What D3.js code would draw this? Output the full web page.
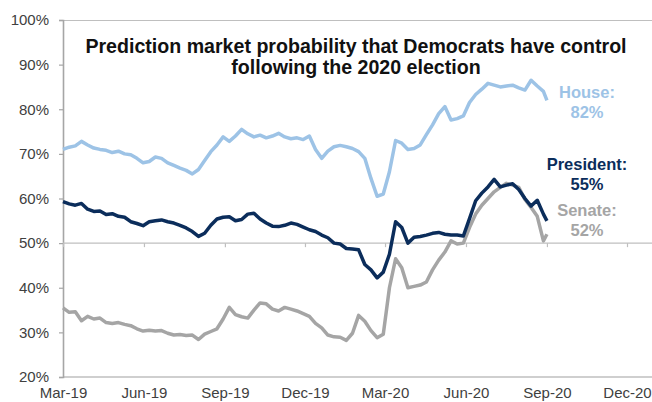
<!DOCTYPE html>
<html>
<head>
<meta charset="utf-8">
<script src="https://cdn.jsdelivr.net/npm/d3@7"></script>
<style>
  html, body { margin: 0; padding: 0; background: #fff; }
  svg { display: block; }
  text { font-family: "Liberation Sans", Arial, sans-serif; }
</style>
</head>
<body>
<svg id="chart" width="652" height="402"></svg>
<script>
// ---- Data (weekly readings from 1 Mar 2019, plus final point 1 Sep 2020) ----
const startDate = "2019-03-01";
const endDate = "2020-09-01";

const house = [
  71.0, 71.5, 71.8, 72.8, 72.0, 71.3, 71.0, 70.8, 70.3, 70.6,
  70.0, 69.8, 69.0, 68.0, 68.3, 69.3, 69.0, 68.0, 67.4, 66.8,
  66.3, 65.5, 66.5, 68.5, 70.5, 72.0, 73.8, 72.8, 74.0, 75.5,
  74.5, 73.8, 74.2, 73.6, 74.0, 74.6, 73.8, 73.4, 73.6, 73.2,
  74.0, 71.0, 69.0, 70.6, 71.6, 71.9, 71.6, 71.2, 70.5, 69.0,
  64.5, 60.5, 61.0, 66.0, 73.0, 72.4, 71.0, 71.2, 72.0, 74.3,
  76.5, 79.0, 80.6, 77.6, 77.9, 78.5, 81.5, 83.3, 84.5, 85.8,
  85.4, 85.0, 85.2, 85.4, 84.8, 84.3, 86.5, 85.2, 84.0, 82.0
];

const president = [
  59.3, 58.8, 58.5, 58.9, 57.6, 57.1, 57.2, 56.4, 56.6, 56.0,
  55.8, 54.8, 54.4, 53.9, 54.8, 55.0, 55.2, 54.8, 54.5, 54.0,
  53.4, 52.6, 51.5, 52.2, 54.0, 55.4, 55.8, 55.9, 55.0, 55.3,
  56.5, 56.7, 55.4, 54.5, 53.8, 53.7, 54.0, 54.5, 54.2, 53.6,
  53.0, 52.6, 51.8, 51.2, 50.0, 49.8, 48.8, 48.7, 48.5, 45.2,
  44.0, 42.2, 43.5, 47.5, 54.8, 53.5, 50.0, 51.3, 51.5, 51.8,
  52.2, 52.4, 52.0, 51.8, 51.8, 51.6, 55.5, 59.5, 61.2, 62.6,
  64.3, 62.6, 63.0, 63.3, 62.0, 60.0, 58.3, 59.6, 56.5, 55.0
];

const senate = [
  35.5, 34.5, 34.6, 32.6, 33.6, 33.0, 33.2, 32.2, 32.0, 32.2,
  31.8, 31.5, 30.8, 30.3, 30.5, 30.3, 30.4, 29.8, 29.4, 29.5,
  29.3, 29.4, 28.4, 29.6, 30.2, 30.8, 33.0, 35.6, 34.0, 33.5,
  33.2, 35.0, 36.6, 36.4, 35.2, 34.8, 35.6, 35.2, 34.8, 34.2,
  33.6, 32.0, 31.0, 29.4, 29.0, 28.9, 28.2, 29.8, 33.8, 32.5,
  30.4, 28.8, 29.6, 40.0, 46.5, 44.5, 40.0, 40.3, 40.6, 41.3,
  44.0, 46.2, 48.0, 50.5, 49.8, 50.0, 53.5, 56.5, 58.5, 60.0,
  61.5, 62.5, 63.4, 63.0, 62.5, 59.8, 58.0, 56.0, 50.5, 52.0
];

const xTickLabels = ["Mar-19","Jun-19","Sep-19","Dec-19","Mar-20","Jun-20","Sep-20","Dec-20"];
const xTickDates = ["2019-03-01","2019-06-01","2019-09-01","2019-12-01","2020-03-01","2020-06-01","2020-09-01","2020-12-01"];
const yTicks = [20, 30, 40, 50, 60, 70, 80, 90, 100];

const seriesNames = ["House", "President", "Senate"];
const seriesLabels = [["House:", "82%"], ["President:", "55%"], ["Senate:", "52%"]];
const titleLines = ["Prediction market probability that Democrats have control", "following the 2020 election"];

// ---- Build ----
(function () {
const parse = d3.timeParse("%Y-%m-%d");
const start = parse(startDate);
const dates = d3.range(house.length - 1).map(i => d3.timeDay.offset(start, 7 * i));
dates.push(parse(endDate));

const colors = { House: "#9DC3E6", President: "#0B2D5B", Senate: "#A5A5A5" };
const values = { House: house, President: president, Senate: senate };

const svg = d3.select("#chart");
const pLeft = 63, pRight = 652, pTop = 20, pBottom = 377;

const x = d3.scaleTime()
  .domain([parse("2019-03-01"), parse("2020-12-01")])
  .range([pLeft, 627]);
const y = d3.scaleLinear().domain([20, 100]).range([pBottom, pTop]);

const gridColor = "#A6A6A6";

// plot frame: top and bottom lines
svg.append("line").attr("x1", pLeft).attr("x2", pRight).attr("y1", pTop + 0.5).attr("y2", pTop + 0.5)
  .attr("stroke", "#BFBFBF").attr("stroke-width", 1.2);
svg.append("line").attr("x1", pLeft).attr("x2", pRight).attr("y1", pBottom).attr("y2", pBottom)
  .attr("stroke", "#BFBFBF").attr("stroke-width", 1.6);

// y axis
const yAxis = d3.axisLeft(y).tickValues(yTicks).tickSize(4).tickPadding(10)
  .tickFormat(d => d + "%");
const gy = svg.append("g").attr("transform", `translate(${pLeft},0)`).call(yAxis);
gy.select(".domain").attr("stroke", gridColor).attr("stroke-width", 1.6);
gy.selectAll(".tick line").attr("stroke", gridColor).attr("stroke-width", 1.2);
gy.selectAll(".tick text").attr("fill", "#404040").style("font-size", "15px")
  .style("font-family", "'Liberation Sans', Arial, sans-serif");

// x axis crossing at 50%
const xTickDatesParsed = xTickDates.map(parse);
const xAxisMid = d3.axisBottom(x).tickValues(xTickDatesParsed).tickSize(4).tickFormat("");
const gxm = svg.append("g").attr("transform", `translate(0,${y(50)})`).call(xAxisMid);
gxm.select(".domain").attr("d", `M${pLeft},0H${pRight}`).attr("stroke", "#BFBFBF").attr("stroke-width", 1.4);
gxm.selectAll(".tick line").attr("stroke", "#BFBFBF").attr("stroke-width", 1.2);

// x labels at bottom
const xAxisBot = d3.axisBottom(x).tickValues(xTickDatesParsed).tickSize(0).tickPadding(10)
  .tickFormat((d, i) => xTickLabels[i]);
const gxb = svg.append("g").attr("transform", `translate(0,${pBottom})`).call(xAxisBot);
gxb.select(".domain").remove();
gxb.selectAll(".tick text").attr("fill", "#404040").style("font-size", "15px")
  .style("font-family", "'Liberation Sans', Arial, sans-serif");

// lines
const line = d3.line().x((d, i) => x(dates[i])).y(d => y(d)).curve(d3.curveLinear);
["Senate", "House", "President"].forEach(name => {
  svg.append("path").datum(values[name])
    .attr("fill", "none")
    .attr("stroke", colors[name])
    .attr("stroke-width", 3.5)
    .attr("stroke-linejoin", "round")
    .attr("d", line);
});

// title
svg.append("text").attr("x", 356).attr("text-anchor", "middle")
  .style("font-weight", "bold").style("font-size", "19.6px").attr("fill", "#111")
  .selectAll("tspan").data(titleLines).join("tspan")
  .attr("x", 356).attr("y", (d, i) => 53 + i * 21).text(d => d);

// series labels
const labelY = { House: 98, President: 170, Senate: 216 };
seriesNames.forEach((name, k) => {
  svg.append("text").attr("text-anchor", "middle")
    .style("font-weight", "bold").style("font-size", "16.5px").attr("fill", colors[name])
    .selectAll("tspan").data(seriesLabels[k]).join("tspan")
    .attr("x", 587).attr("y", (d, i) => labelY[name] + i * 20).text(d => d);
});
})();
</script>
</body>
</html>
